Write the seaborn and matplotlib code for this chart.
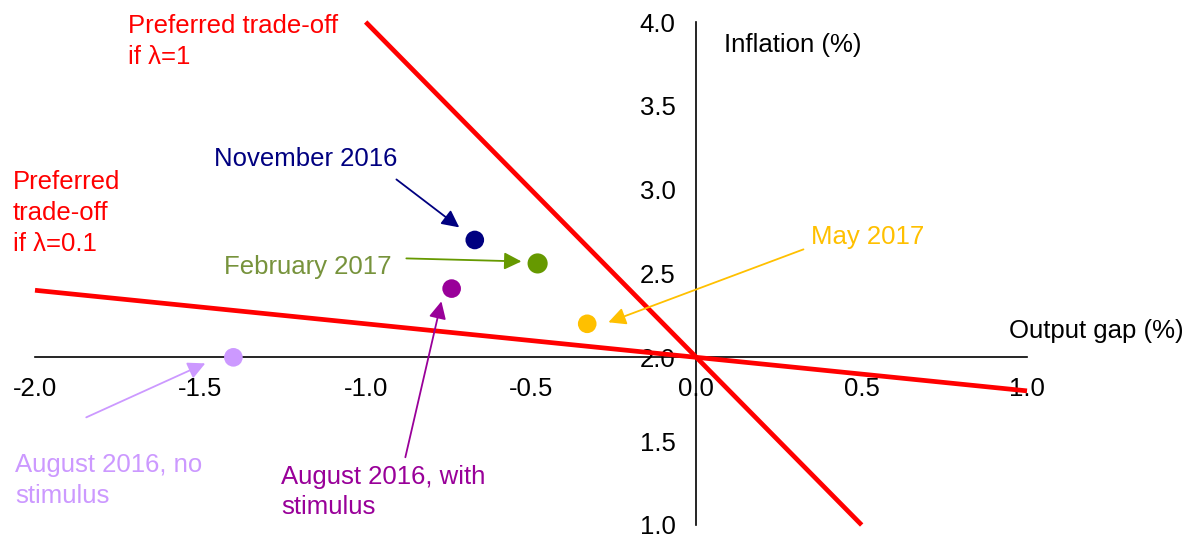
import matplotlib
matplotlib.use("Agg")
import matplotlib.pyplot as plt
import seaborn as sns
import pandas as pd

sns.set_style("white")
plt.rcParams['font.family'] = ['Liberation Sans', 'DejaVu Sans']
plt.rcParams['text.color'] = 'black'

# Data
point_names = ["November 2016", "February 2017", "August 2016, with\nstimulus", "May 2017", "August 2016, no\nstimulus"]
point_x = [-0.67, -0.48, -0.74, -0.33, -1.40]
point_y = [2.70, 2.56, 2.41, 2.20, 2.00]
point_colors = ["#000080", "#669900", "#990099", "#FFC000", "#CC99FF"]
text_colors = ["#000080", "#77933C", "#990099", "#FFC000", "#CC99FF"]
point_sizes = [180, 210, 180, 180, 180]

line1_x = [-1.0, 0.5]   # lambda = 1
line1_y = [4.0, 1.0]
line2_x = [-2.0, 1.0]   # lambda = 0.1
line2_y = [2.4, 1.8]

x_ticks = [-2.0, -1.5, -1.0, -0.5, 0.0, 0.5, 1.0]
y_ticks = [1.0, 1.5, 2.0, 2.5, 3.0, 3.5, 4.0]

fig = plt.figure(figsize=(11.87, 5.36), dpi=100)
ax = fig.add_axes([35/1187, 11/536, 992/1187, 503/536])

df1 = pd.DataFrame({"x": line1_x, "y": line1_y})
df2 = pd.DataFrame({"x": line2_x, "y": line2_y})
sns.lineplot(data=df1, x="x", y="y", ax=ax, color="#FF0000", lw=3.4, sort=False, zorder=3)
sns.lineplot(data=df2, x="x", y="y", ax=ax, color="#FF0000", lw=3.4, sort=False, zorder=3)
for l in ax.lines:
    l.set_solid_capstyle('butt')
    l.set_clip_on(False)

dfp = pd.DataFrame({"x": point_x, "y": point_y, "name": point_names, "size": point_sizes})
sns.scatterplot(data=dfp, x="x", y="y", hue="name", palette=dict(zip(point_names, point_colors)),
                size="size", sizes=(min(point_sizes), max(point_sizes)),
                edgecolor="none", ax=ax, legend=False, zorder=4, clip_on=False)

ax.set_xlim(-2.0, 1.0)
ax.set_ylim(1.0, 4.0)
ax.set_xticks(x_ticks)
ax.set_yticks(y_ticks)
ax.set_xticklabels([f"{v:.1f}" for v in x_ticks])
ax.set_yticklabels([f"{v:.1f}" for v in y_ticks])
ax.set_xlabel("")
ax.set_ylabel("")

for s in ["top", "right"]:
    ax.spines[s].set_visible(False)
ax.spines["left"].set_position(("data", 0))
ax.spines["bottom"].set_position(("data", 2))
for s in ["left", "bottom"]:
    ax.spines[s].set_color("black")
    ax.spines[s].set_linewidth(1.2)
fs = 18.5
ax.tick_params(axis="x", direction="in", length=5, width=1.2, pad=14.5, labelsize=fs,
               colors="black", labelcolor="black")
ax.tick_params(axis="y", direction="out", length=5, width=1.2, pad=10, labelsize=fs,
               colors="black", labelcolor="black")
ax.set_facecolor("white")

ax.text(0.085, 3.86, "Inflation (%)", fontsize=fs, va="center", ha="left")
ax.text(1.473, 2.16, "Output gap (%)", fontsize=fs, va="center", ha="right", clip_on=False)
ax.text(-1.718, 4.048, "Preferred trade-off\nif λ=1", fontsize=fs, va="top", ha="left",
        color="#FF0000", linespacing=1.35, clip_on=False)
ax.text(-2.068, 3.116, "Preferred\ntrade-off\nif λ=0.1", fontsize=fs, va="top", ha="left",
        color="#FF0000", linespacing=1.35, clip_on=False)

# point labels
ax.text(-1.46, 3.18, point_names[0], fontsize=fs, va="center", ha="left", color=text_colors[0])
ax.text(-1.427, 2.537, point_names[1], fontsize=fs, va="center", ha="left", color=text_colors[1])
ax.text(-1.255, 1.36, point_names[2], fontsize=fs, va="top", ha="left", color=text_colors[2],
        linespacing=1.35)
ax.text(-2.06, 1.427, point_names[4], fontsize=fs, va="top", ha="left", color=text_colors[4],
        linespacing=1.35, clip_on=False)
ax.text(0.348, 2.72, point_names[3], fontsize=fs, va="center", ha="left", color=text_colors[3])

arrows = [
    ((-0.907, 3.061), (-0.717, 2.775), point_colors[0]),
    ((-0.877, 2.59), (-0.529, 2.572), point_colors[1]),
    ((-0.88, 1.404), (-0.771, 2.334), point_colors[2]),
    ((0.324, 2.644), (-0.266, 2.209), point_colors[3]),
    ((-1.845, 1.642), (-1.485, 1.964), point_colors[4]),
]
for start, end, c in arrows:
    ax.annotate("", xy=end, xytext=start,
                arrowprops=dict(arrowstyle="-|>", color=c, lw=1.3, mutation_scale=26,
                                shrinkA=0, shrinkB=0))

fig.savefig("out.png", dpi=100, facecolor="white")
